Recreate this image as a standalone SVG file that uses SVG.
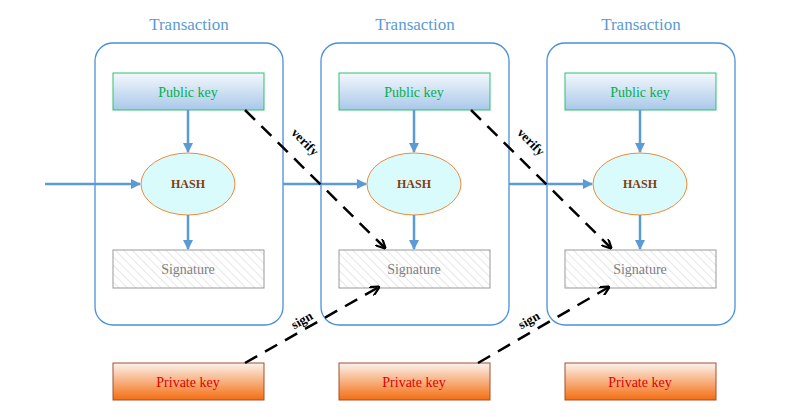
<svg xmlns="http://www.w3.org/2000/svg" width="786" height="417" viewBox="0 0 786 417">
<style>
text{font-family:"Liberation Serif",serif;text-anchor:middle}
.cont{fill:#fff;stroke:#4a90d9;stroke-width:1.3}
.title{font-size:17px;fill:#5b9bd5}
.pub{fill:url(#gPub);stroke:#2fbf71;stroke-width:1}
.pubt{font-size:14px;fill:#00b050}
.hash{fill:#d9fbfb;stroke:#f08a3c;stroke-width:1}
.hasht{font-size:12px;font-weight:bold;fill:#843c0c}
.sig{fill:url(#hatch);stroke:#999;stroke-width:1}
.sigt{font-size:14px;fill:#808080}
.priv{fill:url(#gPriv);stroke:#a0522d;stroke-width:1}
.privt{font-size:14px;fill:#e00000}
.blue{stroke:#5b9bd5;stroke-width:2.5;fill:none;marker-end:url(#ab)}
.dash{stroke:#000;stroke-width:2.5;fill:none;stroke-dasharray:14 9;marker-end:url(#ak)}
.lab{font-size:13px;font-weight:bold;fill:#000}
</style>
<defs>
<linearGradient id="gPub" x1="0" y1="0" x2="0" y2="1"><stop offset="0" stop-color="#f4f8fc"/><stop offset="1" stop-color="#a9c8ea"/></linearGradient>
<linearGradient id="gPriv" x1="0" y1="0" x2="0" y2="1"><stop offset="0" stop-color="#fbf3ee"/><stop offset="1" stop-color="#f46d10"/></linearGradient>
<pattern id="hatch" width="6" height="6" patternUnits="userSpaceOnUse" patternTransform="rotate(-45)"><rect width="6" height="6" fill="#fff"/><line x1="0" y1="0" x2="0" y2="6" stroke="#d0d0d0" stroke-width="1"/></pattern>
<marker id="ab" viewBox="0 0 10 10" refX="9" refY="5" markerWidth="4" markerHeight="4" orient="auto" markerUnits="strokeWidth"><path d="M0,0L10,5L0,10z" fill="#5b9bd5"/></marker>
<marker id="ak" viewBox="0 0 10 10" refX="9" refY="5" markerWidth="4" markerHeight="4" orient="auto" markerUnits="strokeWidth"><path d="M0,0L10,5L0,10" fill="none" stroke="#000" stroke-width="2.2"/></marker>
</defs>
<g id="tx1">
<text class="title" x="189" y="30">Transaction</text>
<rect class="cont" x="95" y="43" width="188" height="282" rx="18"/>
<rect class="pub" x="113" y="73" width="151" height="37"/><text class="pubt" x="188" y="97">Public key</text>
<ellipse class="hash" cx="188" cy="184" rx="47" ry="31"/><text class="hasht" x="188" y="188">HASH</text>
<rect class="sig" x="113" y="250" width="151" height="38"/><text class="sigt" x="188" y="274">Signature</text>
</g>
<g id="tx2">
<text class="title" x="415" y="30">Transaction</text>
<rect class="cont" x="321" y="43" width="188" height="282" rx="18"/>
<rect class="pub" x="339" y="73" width="151" height="37"/><text class="pubt" x="414" y="97">Public key</text>
<ellipse class="hash" cx="414" cy="184" rx="47" ry="31"/><text class="hasht" x="414" y="188">HASH</text>
<rect class="sig" x="339" y="250" width="151" height="38"/><text class="sigt" x="414" y="274">Signature</text>
</g>
<g id="tx3">
<text class="title" x="641" y="30">Transaction</text>
<rect class="cont" x="547" y="43" width="188" height="282" rx="18"/>
<rect class="pub" x="565" y="73" width="151" height="37"/><text class="pubt" x="640" y="97">Public key</text>
<ellipse class="hash" cx="640" cy="184" rx="47" ry="31"/><text class="hasht" x="640" y="188">HASH</text>
<rect class="sig" x="565" y="250" width="151" height="38"/><text class="sigt" x="640" y="274">Signature</text>
</g>
<g id="priv1"><rect class="priv" x="113" y="363" width="151" height="37"/><text class="privt" x="188" y="387">Private key</text></g>
<g id="priv2"><rect class="priv" x="339" y="363" width="151" height="37"/><text class="privt" x="414" y="387">Private key</text></g>
<g id="priv3"><rect class="priv" x="565" y="363" width="151" height="37"/><text class="privt" x="640" y="387">Private key</text></g>
<g id="connectors">
<line class="blue" x1="188" y1="110" x2="188" y2="152"/>
<line class="blue" x1="188" y1="215" x2="188" y2="249"/>
<line class="blue" x1="414" y1="110" x2="414" y2="152"/>
<line class="blue" x1="414" y1="215" x2="414" y2="249"/>
<line class="blue" x1="640" y1="110" x2="640" y2="152"/>
<line class="blue" x1="640" y1="215" x2="640" y2="249"/>
<line class="blue" x1="45" y1="184" x2="140" y2="184"/>
<line class="blue" x1="283" y1="184" x2="366" y2="184"/>
<line class="blue" x1="509" y1="184" x2="592" y2="184"/>
<line class="dash" x1="245" y1="110" x2="385" y2="248"/>
<line class="dash" x1="471" y1="110" x2="611" y2="248"/>
<line class="dash" x1="245" y1="363" x2="379" y2="287"/>
<line class="dash" x1="478" y1="363" x2="609" y2="287"/>
<text class="lab" transform="translate(302,145) rotate(45)">verify</text>
<text class="lab" transform="translate(528,145) rotate(45)">verify</text>
<text class="lab" transform="translate(304,324) rotate(-30)">sign</text>
<text class="lab" transform="translate(531,324) rotate(-30)">sign</text>
</g>
</svg>
